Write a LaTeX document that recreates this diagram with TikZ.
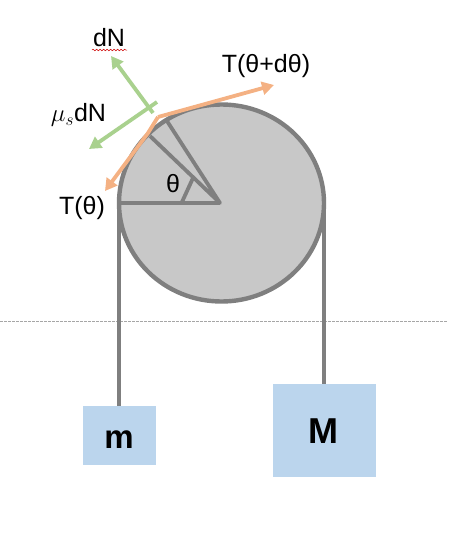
\documentclass[tikz,border=0pt]{standalone}
\usepackage{fontspec}
\setmainfont{Liberation Sans}
\usetikzlibrary{arrows.meta,decorations.pathmorphing}
\definecolor{pgray}{HTML}{7F7F7F}
\definecolor{pfill}{HTML}{C8C8C8}
\definecolor{porange}{HTML}{F4B183}
\definecolor{pgreen}{HTML}{A9D18E}
\definecolor{pblue}{HTML}{BBD5ED}
\tikzset{
  wheelline/.style={draw=pgray,line width=4.4pt,line join=round},
  tensionarrow/.style={draw=porange,line width=3.8pt,line join=round,-{Triangle[length=12pt,width=13pt]}},
  forcearrow/.style={draw=pgreen,line width=3.8pt,-{Triangle[length=12pt,width=13pt]}},
  massbox/.style={fill=pblue,draw=none,inner sep=0pt,anchor=north west},
  lbl/.style={inner sep=0pt,text=black,font=\fontsize{25}{28}\selectfont},
}
\begin{document}
\begin{tikzpicture}[x=1pt,y=-1pt]
\useasboundingbox (0,0) rectangle (450,533);
% coordinates
\coordinate (C) at (220,203);
\coordinate (E) at (221.5,203);
\coordinate (L) at (119,203);
\coordinate (R) at (324,203);
\coordinate (A) at (150,136);
\coordinate (B) at (167,121);
\coordinate (a1) at (182,202);
\coordinate (a2) at (193,178);
\coordinate (dl) at (0,321.5);
\coordinate (dr) at (447,321.5);
\coordinate (t0) at (105,191);
\coordinate (t1) at (148,133);
\coordinate (t2) at (158,117);
\coordinate (t3) at (274,85);
\coordinate (n0) at (153,113);
\coordinate (n1) at (111,56);
\coordinate (f0) at (157,102);
\coordinate (f1) at (89,149);
\coordinate (wl) at (92,50);
\coordinate (wr) at (127,50);
% dashed line
\draw[draw=gray!70,line width=0.7pt,dash pattern=on 2.5pt off 1.5pt] (dl) -- (dr);
% masses
\node[massbox,minimum width=73pt,minimum height=59pt] (m) at (83,406) {};
\node[massbox,minimum width=103pt,minimum height=93pt] (M) at (273,384) {};
\node[inner sep=0pt,font=\bfseries\fontsize{33}{38}\selectfont] (mlabel) at (119,440) {m};
\node[inner sep=0pt,font=\bfseries\fontsize{36}{42}\selectfont] (Mlabel) at (323.5,431) {M};
% strings
\draw[wheelline] (L) -- (L |- m.north);
\draw[wheelline] (R) -- (R |- M.north);
% wheel
\draw[wheelline,fill=pfill] (E) ellipse[x radius=102.5,y radius=98.5];
\draw[wheelline] (L) -- (C);
\draw[wheelline,line width=3.8pt] (A) -- (C) -- (B);
\draw[wheelline,line width=3.8pt] (a1) -- (a2);
% forces
\draw[tensionarrow] (t2) -- (t3);
\draw[tensionarrow] (t2) -- (t1) -- (t0);
\draw[forcearrow] (n0) -- (n1);
\draw[forcearrow] (f0) -- (f1);
% labels
\node[lbl] (ldn) at (109,38) {dN};
\node[lbl] (lmu) at (78.5,115) {\(\mu_s\)dN};
\node[lbl] (ltt) at (266,66) {T(θ+dθ)};
\node[lbl] (lt) at (82,208) {T(θ)};
\node[lbl] (lth) at (173,184) {θ};
\draw[red!80!black,line width=0.5pt,decorate,decoration={snake,amplitude=0.8pt,segment length=3.5pt}] (wl) -- (wr);
\end{tikzpicture}
\end{document}
